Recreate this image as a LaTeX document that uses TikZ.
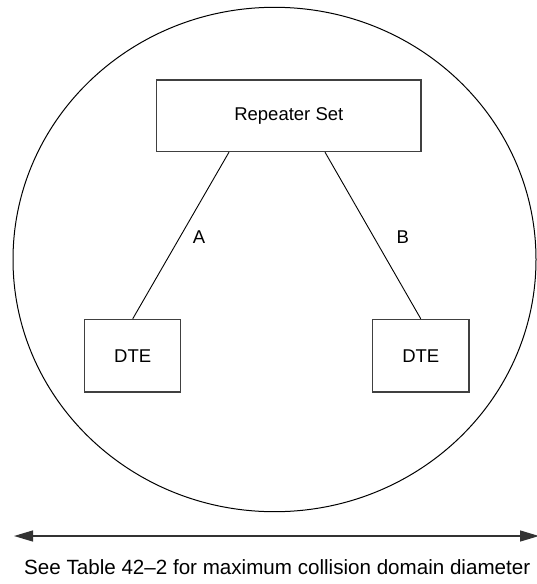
\documentclass[tikz,border=0pt]{standalone}
\usepackage{fontspec}
\setmainfont{Liberation Sans}
\usetikzlibrary{arrows.meta,shapes.geometric}
\tikzset{
  boxnode/.style={draw=black!75, line width=1.3pt, rectangle, inner sep=0pt,
    font=\fontsize{18.5}{22}\selectfont},
  wire/.style={draw=black, line width=0.9pt},
  lbl/.style={inner sep=0pt, font=\fontsize{18.5}{22}\selectfont},
  domainoval/.style={draw=black, line width=1pt, ellipse, inner sep=0pt},
  dimarrow/.style={draw=black!80, line width=1.3pt,
    {Triangle[length=19pt,width=11pt]}-{Triangle[length=19pt,width=11pt]}},
}
\begin{document}
\begin{tikzpicture}[x=1pt,y=-1pt]
\useasboundingbox (0,0) rectangle (536,584);
\node[domainoval, minimum width=523pt, minimum height=504.4pt] (dom) at (274.5,259.5) {};
\node[boxnode, minimum width=264.4pt, minimum height=71.5pt] (rep) at (288.8,115.75) {Repeater Set};
\node[boxnode, minimum width=96pt, minimum height=72.5pt] (dteL) at (132.7,355.75) {DTE};
\node[boxnode, minimum width=96.4pt, minimum height=72.5pt] (dteR) at (420.8,355.75) {DTE};
\draw[wire] ([xshift=-59.8pt]rep.south) -- (dteL.north);
\draw[wire] ([xshift=36.2pt]rep.south) -- (dteR.north);
\node[lbl] (labA) at (199,237.3) {A};
\node[lbl] (labB) at (402.7,237.3) {B};
\coordinate (arrL) at (14,536);
\coordinate (arrR) at (539,536);
\draw[dimarrow] (arrL) -- (arrR);
\node[inner sep=0pt, anchor=west, font=\fontsize{20.6}{25}\selectfont] (cap) at (24,566.7) {See Table 42–2 for maximum collision domain diameter};
\end{tikzpicture}
\end{document}
